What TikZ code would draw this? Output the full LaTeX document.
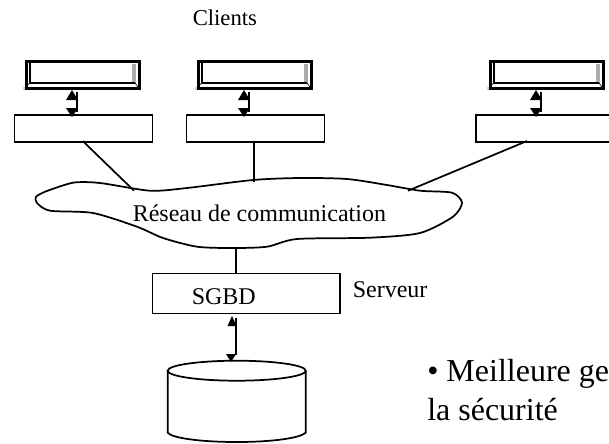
\documentclass[tikz,border=0pt]{standalone}
\usepackage{fontspec}
\setmainfont{Liberation Serif}
\tikzset{
  x=0.75pt,y=-0.75pt,
  ln/.style={line width=1.3pt,black},
  boxn/.style={draw,line width=1.3pt,minimum width=103.5pt,minimum height=20.25pt,inner sep=0pt,anchor=north west},
  termn/.style={draw,line width=1.9pt,fill=white,minimum width=84.75pt,minimum height=20.25pt,inner sep=0pt,anchor=north west},
  lbl/.style={inner sep=0pt,anchor=base west,font=\fontsize{18pt}{20pt}\selectfont},
}
\newcommand{\terminal}[2]{%
  \fill[gray!35] (#1-2,#2+27) rectangle (#1+112,#2+29.5);
  \node[termn] (t#1) at (#1,#2) {};
  \fill[gray!65] (#1+107,#2+4) rectangle (#1+110.5,#2+23);
  \draw[line width=0.9pt] (#1+5,#2+2) -- (#1+5,#2+23) -- (#1+110,#2+23);
  \draw[line width=0.5pt] (#1,#2+27) -- (#1+5,#2+23) (#1+113,#2+27) -- (#1+110,#2+23);
}
\begin{document}
\begin{tikzpicture}
\useasboundingbox (0,0) rectangle (609,443);
\clip (0,0) rectangle (609,443);
\terminal{25}{60}
\terminal{197}{60}
\terminal{489}{60}
\node[boxn] (b1) at (13.5,114) {};
\node[boxn] (b2) at (185.5,114) {};
\node[boxn] (b3) at (475,114) {};
\node[lbl,font=\fontsize{17pt}{20pt}\selectfont] (cl) at (192.5,25) {Clients};
% cloud
\draw[ln,fill=white] plot[smooth,tension=0.45] coordinates {(45,191.7)(73,182.7)(100,183)(150,190.7)(187,188)(253,180)(300,178)(347,179)(387,185)(420,190.7)(452,192.7)(462,202.7)(453,216.7)(420,233)(370,237.7)(297,239)(267,246.7)(233,248)(197,246.7)(163,238)(137,226.7)(93,213)(50,210.7)(37,203)(36,196.7)(45,191.7)};
\coordinate (c1) at (134,190.7);
\coordinate (c2) at (254,182);
\coordinate (c3) at (408,190.7);
\coordinate (c4) at (236,248);
\coordinate (c1b) at (82.7,141);
\coordinate (c2b) at (254,141);
\coordinate (c3b) at (527,141);
\draw[ln] (c1b) -- (c1);
\draw[ln] (c2b) -- (c2);
\draw[ln] (c3b) -- (c3);
\node[lbl] (net) at (132.5,221.7) {Réseau de communication};
\node[boxn,minimum width=140.5pt,minimum height=30pt] (srv) at (151.7,272.7) {};
\coordinate (c4b) at (236,272.7);
\draw[ln] (c4) -- (c4b);
\node[lbl] (sg) at (191.5,304) {SGBD};
\node[lbl] (sv) at (352.5,297) {Serveur};
% arrows
\foreach \xa in {72,244,536}{
  \draw[ln] (\xa+5,92) -- (\xa+5,112);
  \fill (\xa,90) -- (\xa-6,100) -- (\xa+6,100) -- cycle;
  \fill (\xa,117) -- (\xa-6,108) -- (\xa+6,108) -- cycle;
}
\draw[ln] (235.7,318) -- (235.7,355);
\fill (232,316) -- (227.5,326) -- (236.5,326) -- cycle;
\fill (231,362) -- (226,354) -- (236,354) -- cycle;
% database
\draw[ln,fill=white] (167.7,370.7) -- (167.7,432.7) .. controls (172,438) and (200,442) .. (236.7,442) .. controls (273,442) and (300,438) .. (305.7,432.7) -- (305.7,370.7);
\draw[ln] (236.7,370.7) ellipse [x radius=69,y radius=10];
\node[lbl,font=\fontsize{24pt}{26pt}\selectfont] (m1) at (427,381.7) {• Meilleure ge};
\node[lbl,font=\fontsize{24pt}{26pt}\selectfont] (m2) at (427,420) {la sécurité};
\end{tikzpicture}
\end{document}
